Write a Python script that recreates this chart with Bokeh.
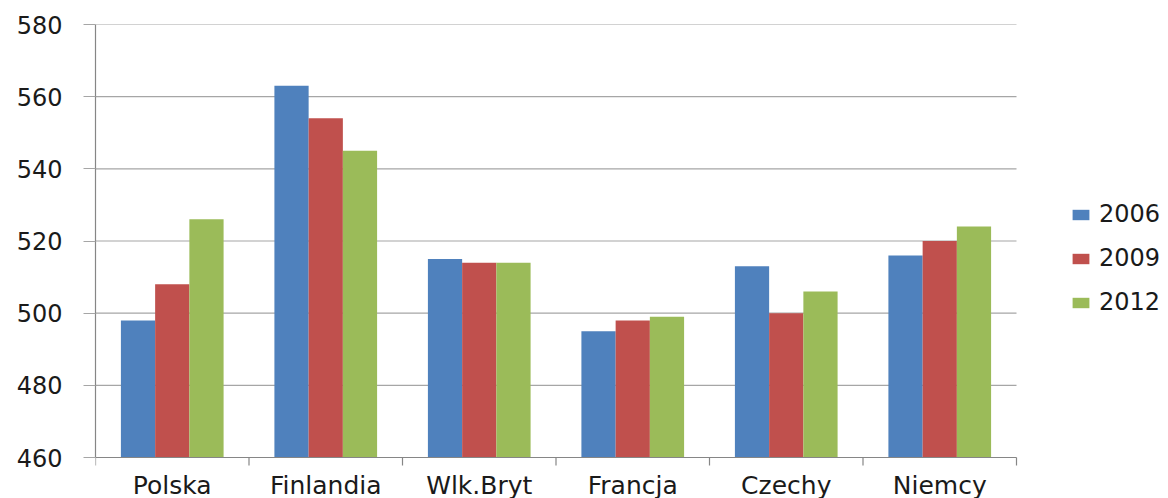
from bokeh.plotting import figure
from bokeh.models import ColumnDataSource, FixedTicker, Range1d, Legend, LegendItem
from bokeh.core.properties import value
from bokeh.embed import file_html
from bokeh.resources import INLINE

categories = ["Polska", "Finlandia", "Wlk.Bryt", "Francja", "Czechy", "Niemcy"]
years = ["2006", "2009", "2012"]
v2006 = [498, 563, 515, 495, 513, 516]
v2009 = [508, 554, 514, 498, 500, 520]
v2012 = [526, 545, 514, 499, 506, 524]
y_ticks = [460, 480, 500, 520, 540, 560, 580]

colors = ["#4F81BD", "#C0504D", "#9BBB59"]
series = [v2006, v2009, v2012]
FONT = "DejaVu Sans"
TXT = "#1a1a1a"
AXIS_COL = "#868686"
GRID_COL = "#a6a6a6"

W, H = 1168, 498
LEFT, PLOT_RIGHT = 95, 1016
TOP, AXIS_Y = 24, 457
n = len(categories)
y_min, y_max = y_ticks[0], y_ticks[-1]
px_per_unit = (AXIS_Y - TOP) / (y_max - y_min)
# ranges extended so that the category labels and the legend sit inside the frame
x_end = n * (W - LEFT) / (PLOT_RIGHT - LEFT)
y_start = y_min - (H - AXIS_Y) / px_per_unit

p = figure(width=W, height=H, output_backend="svg", toolbar_location=None,
           x_range=Range1d(0, x_end), y_range=Range1d(y_start, y_max),
           x_axis_location=None,
           min_border_left=LEFT, min_border_right=0, min_border_top=TOP, min_border_bottom=0)
p.outline_line_color = None
p.xgrid.grid_line_color = None
p.ygrid.grid_line_color = None

# horizontal gridlines limited to the category area
p.segment(x0=0, x1=n, y0=y_ticks[1:], y1=y_ticks[1:], line_color=GRID_COL, line_width=1.2)

bw = 0.223
offsets = [-bw, 0.0, bw]
renderers = []
for k, (vals, col) in enumerate(zip(series, colors)):
    src = ColumnDataSource(dict(x=[i + 0.5 + offsets[k] for i in range(n)], top=vals))
    r = p.vbar(x="x", top="top", bottom=y_min, width=bw, source=src, fill_color=col, line_color=None)
    renderers.append(r)

# category axis: line, boundary ticks, labels
p.segment(x0=0, x1=n, y0=y_min, y1=y_min, line_color=AXIS_COL, line_width=1.2)
bounds = list(range(n + 1))
p.segment(x0=bounds, x1=bounds, y0=[y_min] * (n + 1), y1=[y_min - 8 / px_per_unit] * (n + 1),
          line_color=AXIS_COL, line_width=1.2)
p.text(x=[i + 0.5 for i in range(n)], y=[y_min] * n, text=categories, y_offset=13,
       text_align="center", text_baseline="top", text_font=value(FONT),
       text_font_size="25px", text_color=TXT)

# y axis
p.yaxis.bounds = (y_min, y_max)
p.yaxis.ticker = FixedTicker(ticks=y_ticks)
p.yaxis.major_tick_out = 12
p.yaxis.major_tick_in = 0
p.yaxis.minor_tick_line_color = None
p.yaxis.major_tick_line_color = GRID_COL
p.yaxis.axis_line_color = AXIS_COL
p.yaxis.axis_line_width = 1.2
p.yaxis.major_label_standoff = 21
p.yaxis.major_label_text_font = FONT
p.yaxis.major_label_text_font_size = "24px"
p.yaxis.major_label_text_color = TXT

legend = Legend(items=[LegendItem(label=y, renderers=[r]) for y, r in zip(years, renderers)],
                location=(975, 182), orientation="vertical",
                glyph_width=21, glyph_height=13, label_standoff=8, spacing=16,
                padding=0, margin=0, border_line_color=None, background_fill_alpha=0,
                label_text_font=FONT, label_text_font_size="24px", label_text_color=TXT)
p.add_layout(legend, "center")

open("out.html", "w").write(file_html(p, INLINE))
